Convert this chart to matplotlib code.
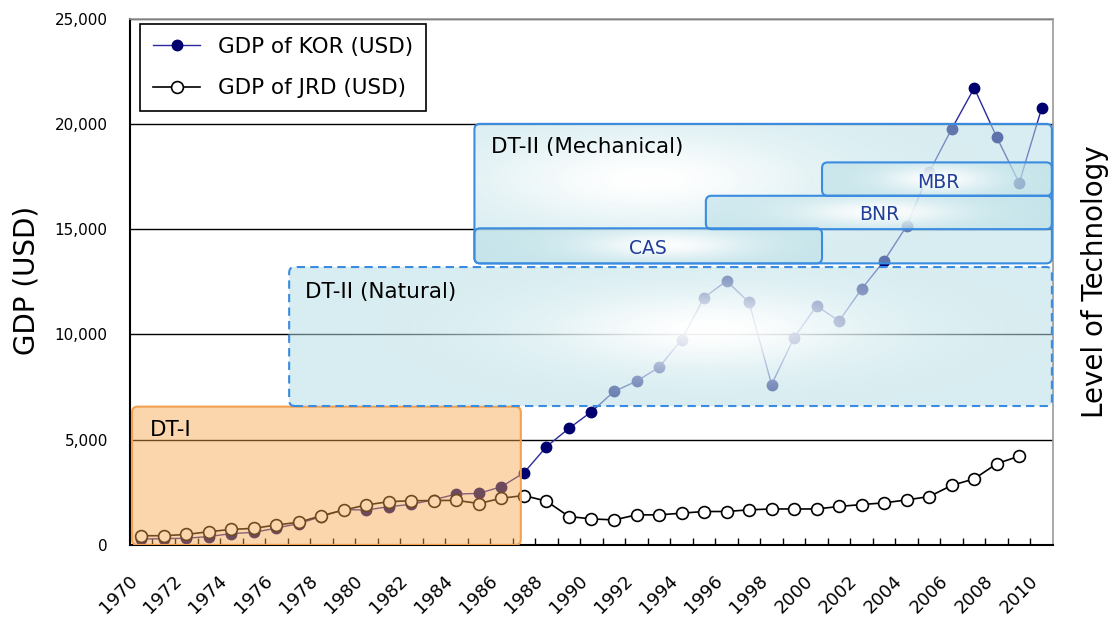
import numpy as np
import matplotlib
matplotlib.use("Agg")
import matplotlib.pyplot as plt
import matplotlib.transforms as mtransforms
from matplotlib.patches import FancyBboxPatch

# GDP per capita values
years = list(range(1970, 2011))
kor_gdp = [280, 300, 320, 400, 540, 600, 800, 1020, 1350, 1680,
           1660, 1820, 1930, 2150, 2420, 2450, 2770, 3430, 4670, 5540,
           6330, 7290, 7780, 8440, 9750, 11750, 12540, 11520, 7620, 9850,
           11350, 10640, 12160, 13500, 15150, 17710, 19760, 21700, 19370, 17190,
           20760]
jrd_gdp = [440, 440, 500, 630, 740, 790, 950, 1080, 1390, 1660,
           1900, 2060, 2100, 2110, 2120, 1970, 2220, 2350, 2080, 1350,
           1240, 1190, 1430, 1430, 1510, 1590, 1590, 1670, 1710, 1710,
           1710, 1830, 1920, 2000, 2140, 2300, 2830, 3140, 3860, 4220]
y_ticks = [0, 5000, 10000, 15000, 20000, 25000]

# technology stages: (x from, x to) in year index, (gdp from, gdp to)
stage_dt1 = (-0.41, 16.86, 0, 6570)
stage_natural = (6.57, 40.45, 6600, 13200)
stage_mech = (14.8, 40.45, 13375, 20000)
sub_boxes = {"CAS": (14.8, 30.24, 13375, 15040),
             "BNR": (25.08, 40.45, 15000, 16585),
             "MBR": (30.24, 40.45, 16585, 18170)}
sub_label_pos = {"CAS": (22.5, 14090), "BNR": (32.8, 15690), "MBR": (35.4, 17200)}

x = np.arange(len(years))

fig = plt.figure(figsize=(11.11, 6.2), dpi=100)
ax = fig.add_axes([0.117, 0.121, 0.8308, 0.849])

ax.plot(x, kor_gdp, color="#2a2a9c", lw=1, marker="o", ms=7.5,
        mfc="#00006e", mec="#00006e", zorder=2, label="GDP of KOR (USD)")
ax.plot(x[:len(jrd_gdp)], jrd_gdp, color="black", lw=1.2, marker="o", ms=8.5,
        mfc="white", mec="black", mew=1.2, zorder=2.1, label="GDP of JRD (USD)")

# ratio of y units per pixel to x units per pixel, for round corners
ASPECT = (5000 / 105.3) * 22.5


def soft_box(box, hc, hw, vc, vw, z, dashed=False):
    x0, x1, y0, y1 = box
    edge = FancyBboxPatch((x0, y0), x1 - x0, y1 - y0,
                          boxstyle="round,pad=0,rounding_size=0.25",
                          mutation_aspect=ASPECT, fc="none", ec="#3a8ce0",
                          lw=1.5, ls=(0, (4, 2.5)) if dashed else "-", zorder=z + 0.05)
    ax.add_patch(edge)
    u = np.linspace(0, 1, 300)
    t = np.linspace(0, 1, 120)
    U, T = np.meshgrid(u, t)
    w = np.exp(-((U - hc) / hw) ** 2) * np.exp(-((T - vc) / vw) ** 2)
    teal = np.array([178, 220, 228]) / 255
    rgba = np.zeros((len(t), len(u), 4))
    rgba[..., :3] = teal * (1 - w[..., None]) + w[..., None]
    rgba[..., 3] = 0.5 + 0.45 * w
    im = ax.imshow(rgba, extent=(x0, x1, y0, y1), origin="lower", aspect="auto",
                   interpolation="bilinear", zorder=z)
    im.set_clip_path(edge)


# DT-I (orange)
x0, x1, y0, y1 = stage_dt1
ax.add_patch(FancyBboxPatch((x0, y0), x1 - x0, y1 - y0,
                            boxstyle="round,pad=0,rounding_size=0.25",
                            mutation_aspect=ASPECT, fc=(248/255, 164/255, 71/255, 0.45),
                            ec="#f3a04e", lw=1.5, zorder=3))

soft_box(stage_natural, 0.55, 0.28, 0.55, 0.38, 3, dashed=True)
soft_box(stage_mech, 0.3, 0.38, 0.6, 0.45, 3.3)
soft_box(sub_boxes["CAS"], 0.55, 0.3, 0.5, 0.5, 3.6)
soft_box(sub_boxes["BNR"], 0.5, 0.3, 0.5, 0.5, 3.6)
soft_box(sub_boxes["MBR"], 0.5, 0.3, 0.5, 0.5, 3.6)

ax.text(0.39, 5460, "DT-I", fontsize=15.5, va="center", zorder=5)
ax.text(7.28, 12010, "DT-II (Natural)", fontsize=15.5, va="center", zorder=5)
ax.text(15.54, 18900, "DT-II (Mechanical)", fontsize=15.5, va="center", zorder=5)
for name, (lx, ly) in sub_label_pos.items():
    ax.text(lx, ly, name, fontsize=13.5, color="#1f3d99", ha="center", va="center", zorder=5)

ax.set_xlim(-0.5, len(years) - 0.5)
ax.set_ylim(0, 25000)

ax.set_yticks(y_ticks)
ax.set_yticklabels([f"{v:,}" for v in y_ticks])
ax.yaxis.grid(True, color="black", lw=1)
ax.set_axisbelow(True)
ax.tick_params(axis="y", length=0, pad=16, labelsize=11)

ax.set_xticks(x[::2])
ax.set_xticklabels([str(y) for y in years[::2]], rotation=45, ha="right",
                   va="center", rotation_mode="anchor", fontsize=13)
ax.set_xticks(np.arange(0.5, len(years) - 1, 1), minor=True)
ax.tick_params(axis="x", which="major", length=0, pad=24)
ax.tick_params(axis="x", which="minor", direction="in", length=5, width=1)
shift = mtransforms.ScaledTranslation(-0.07, 0, fig.dpi_scale_trans)
for lbl in ax.get_xticklabels():
    lbl.set_transform(lbl.get_transform() + shift)

for side in ["left", "bottom"]:
    ax.spines[side].set_color("black")
    ax.spines[side].set_linewidth(1.5)
for side in ["top", "right"]:
    ax.spines[side].set_color("#999999")
    ax.spines[side].set_linewidth(1.2)

leg = ax.legend(loc="upper left", bbox_to_anchor=(0.011, 0.99), borderaxespad=0,
                fancybox=False, edgecolor="black", framealpha=1, fontsize=15.5,
                handlelength=2.2, labelspacing=1.0, borderpad=0.6)
leg.get_frame().set_linewidth(1.2)
leg.set_zorder(6)

fig.text(0.024, 0.548, "GDP (USD)", rotation=90, fontsize=20, ha="center", va="center")
fig.text(0.9856, 0.545, "Level of Technology", rotation=90, fontsize=20,
         ha="center", va="center")

fig.savefig("out.png", dpi=100)
